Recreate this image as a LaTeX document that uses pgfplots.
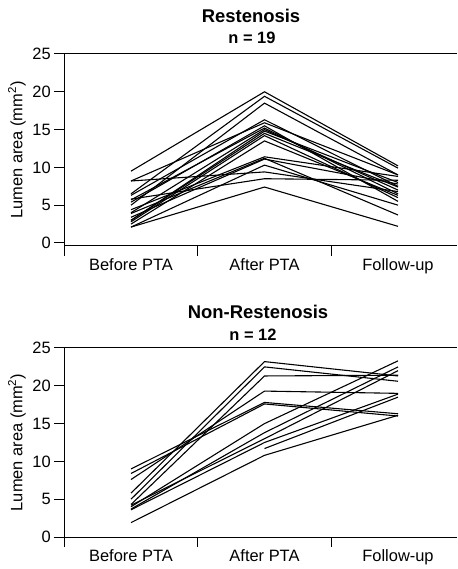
\documentclass[border=0pt]{standalone}
\usepackage{pgfplots}
\pgfplotsset{compat=1.18}
\usepackage{fontspec}
\setmainfont{Liberation Sans}
\begin{document}
\begin{tikzpicture}
\useasboundingbox (0bp,0bp) rectangle (458bp,569bp);
\pgfplotsset{
  myax/.style={
    scale only axis, width=392.5bp,
    xmin=-0.5, xmax=2.44,
    ymax=25,
    axis y line=left, axis x line=box,
    xtick pos=left, ytick pos=left,
    axis line style={-, line width=1pt, black},
    xtick={-0.5,0.5,1.5}, xticklabels={},
    extra x ticks={0,1,2},
    extra x tick labels={Before PTA, After PTA, Follow-up},
    extra x tick style={major tick length=0pt, xticklabel style={yshift=-9bp}},
    ytick={0,5,10,15,20,25},
    tick align=outside, major tick length=10bp,
    tick style={line width=1pt, black},
    /pgf/number format/assume math mode=true,
    tick label style={font=\fontsize{16.5}{18}\selectfont},
    ylabel={Lumen area (mm\textsuperscript{2})},
    every axis y label/.style={at={(axis description cs:-0.1204,0.5)}, rotate=90, anchor=center, font=\fontsize{16.5}{18}\selectfont},
    cycle list={{black, solid, mark=none}},
    every axis plot post/.append style={line width=1.1pt, line join=miter},
  }
}
\begin{axis}[myax, at={(64.25bp,323bp)}, anchor=south west, height=192bp, ymin=-0.4]
\addplot coordinates {(0,9.5) (1,20.0) (2,10.2)};
\addplot coordinates {(0,6.5) (1,19.4) (2,9.9)};
\addplot coordinates {(0,5.0) (1,18.5) (2,9.0)};
\addplot coordinates {(0,6.3) (1,16.3) (2,7.5)};
\addplot coordinates {(0,8.2) (1,15.9) (2,9.0)};
\addplot coordinates {(0,5.7) (1,15.2) (2,6.5)};
\addplot coordinates {(0,4.0) (1,15.0) (2,7.0)};
\addplot coordinates {(0,3.0) (1,14.8) (2,8.0)};
\addplot coordinates {(0,2.8) (1,14.2) (2,6.0)};
\addplot coordinates {(0,5.4) (1,15.5) (2,5.5)};
\addplot coordinates {(0,2.5) (1,13.5) (2,6.3)};
\addplot coordinates {(0,4.4) (1,11.4) (2,8.8)};
\addplot coordinates {(0,3.4) (1,11.1) (2,7.8)};
\addplot coordinates {(0,2.1) (1,10.3) (2,5.0)};
\addplot coordinates {(0,8.2) (1,9.4) (2,6.8)};
\addplot coordinates {(0,5.8) (1,8.5) (2,8.3)};
\addplot coordinates {(0,2.1) (1,7.4) (2,2.2)};
\addplot coordinates {(0,3.9) (1,11.2) (2,3.7)};
\addplot coordinates {(0,3.0) (1,14.5) (2,7.4)};
\end{axis}
\begin{axis}[myax, at={(64.25bp,32bp)}, anchor=south west, height=189bp, ymin=0]
\addplot coordinates {(0,5.8) (1,23.2) (2,21.3)};
\addplot coordinates {(0,5.0) (1,22.5) (2,20.6)};
\addplot coordinates {(0,4.3) (1,21.3) (2,21.4)};
\addplot coordinates {(0,7.6) (1,19.3) (2,19.0)};
\addplot coordinates {(0,9.0) (1,17.8) (2,16.3)};
\addplot coordinates {(0,8.4) (1,17.6) (2,16.0)};
\addplot coordinates {(0,4.0) (1,15.0) (2,23.3)};
\addplot coordinates {(0,3.7) (1,13.8) (2,22.5)};
\addplot coordinates {(0,4.2) (1,13.0) (2,22.0)};
\addplot coordinates {(0,3.6) (1,12.5) (2,18.9)};
\addplot coordinates {(0,1.9) (1,10.8) (2,16.1)};
\addplot coordinates {(1,11.7) (2,18.5)};
\end{axis}
\node[font=\bfseries\fontsize{18.5}{20}\selectfont] at (251bp,553bp) {Restenosis};
\node[font=\bfseries\fontsize{16.5}{18}\selectfont] at (252bp,531bp) {n = 19};
\node[font=\bfseries\fontsize{18.5}{20}\selectfont] at (258bp,257bp) {Non-Restenosis};
\node[font=\bfseries\fontsize{16.5}{18}\selectfont] at (253bp,234bp) {n = 12};
\end{tikzpicture}
\end{document}
